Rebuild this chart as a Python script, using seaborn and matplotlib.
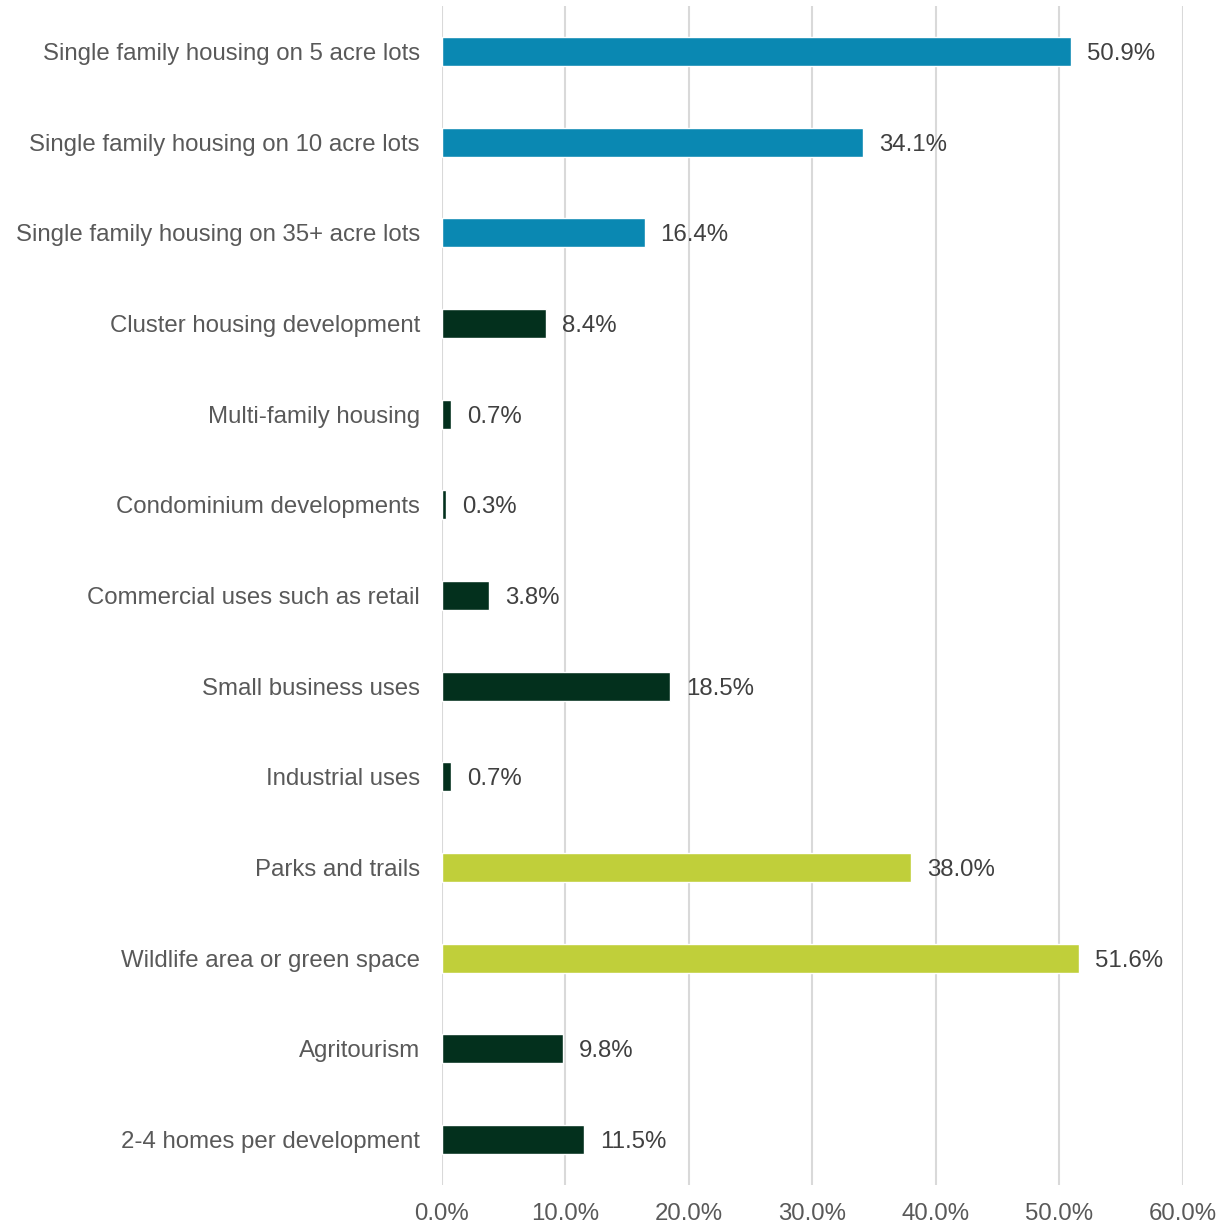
import matplotlib
matplotlib.use("Agg")
import matplotlib.pyplot as plt
import seaborn as sns
import pandas as pd
from matplotlib.ticker import FuncFormatter

categories = [
    "Single family housing on 5 acre lots",
    "Single family housing on 10 acre lots",
    "Single family housing on 35+ acre lots",
    "Cluster housing development",
    "Multi-family housing",
    "Condominium developments",
    "Commercial uses such as retail",
    "Small business uses",
    "Industrial uses",
    "Parks and trails",
    "Wildlife area or green space",
    "Agritourism",
    "2-4 homes per development",
]
values = [50.9, 34.1, 16.4, 8.4, 0.7, 0.3, 3.8, 18.5, 0.7, 38.0, 51.6, 9.8, 11.5]
groups = ["blue", "blue", "blue", "dark", "dark", "dark", "dark", "dark", "dark",
          "lime", "lime", "dark", "dark"]
group_colors = {"blue": "#0a88b2", "dark": "#03301d", "lime": "#c0cf3a"}
x_ticks = [0, 10, 20, 30, 40, 50, 60]

sns.set_theme(style="white")
plt.rcParams["font.family"] = ["Liberation Sans", "DejaVu Sans"]

df = pd.DataFrame({"category": categories, "value": values, "group": groups})

fig = plt.figure(figsize=(12.22, 12.28), dpi=100)
ax = fig.add_axes([0.3617, 0.035, 0.968 - 0.3617, 0.9951 - 0.035])

sns.barplot(data=df, y="category", x="value", hue="group", palette=group_colors,
            dodge=False, width=0.32, legend=False, ax=ax, saturation=1, orient="h")

fs = 17.3
ax.set_xlim(0, 60)
ax.set_ylim(len(categories) - 0.5, -0.5)
ax.set_xticks(x_ticks)
ax.xaxis.set_major_formatter(FuncFormatter(lambda v, p: f"{v:.1f}%"))
ax.grid(axis="x", color="#d9d9d9", linewidth=1.5)
ax.set_axisbelow(True)
for s in ax.spines.values():
    s.set_visible(False)
ax.set_xlabel("")
ax.set_ylabel("")
ax.tick_params(axis="both", length=0, labelsize=fs, labelcolor="#595959")
ax.tick_params(axis="y", pad=16)
ax.tick_params(axis="x", pad=13)

for i, v in enumerate(values):
    ax.text(v + 1.3, i, f"{v:.1f}%", va="center_baseline", ha="left", fontsize=fs, color="#404040")

fig.savefig("out.png", dpi=100)
